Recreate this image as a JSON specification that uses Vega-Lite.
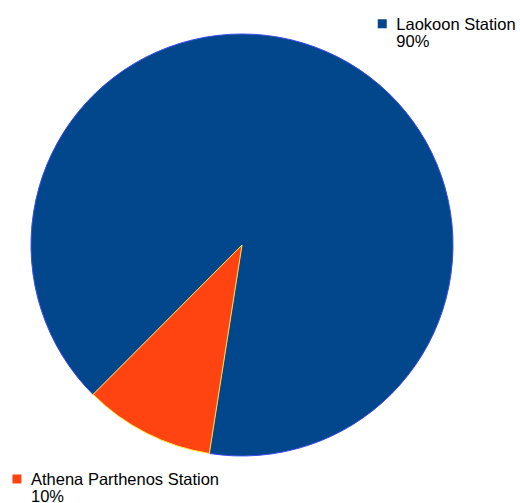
{
  "$schema": "https://vega.github.io/schema/vega-lite/v6.json",
  "width": 484,
  "height": 490,
  "autosize": {"type": "none"},
  "padding": {"left": 0, "top": 0, "right": 36, "bottom": 13},
  "background": "white",
  "config": {
    "view": {"stroke": null},
    "legend": {"labelFont": "Liberation Sans", "labelFontSize": 16.5, "labelColor": "#000000"},
    "style": {"guide-label": {"lineHeight": 17}}
  },
  "data": {
    "values": [
      {"station": "Laokoon Station", "value": 90},
      {"station": "Athena Parthenos Station", "value": 10}
    ]
  },
  "transform": [
    {"joinaggregate": [{"op": "sum", "field": "value", "as": "total"}]},
    {"calculate": "datum.station + '|' + format(datum.value / datum.total, '.0%')", "as": "legendLabel"}
  ],
  "layer": [
    {
      "mark": {"type": "arc", "outerRadius": 211, "strokeWidth": 1},
      "encoding": {
        "theta": {"field": "value", "type": "quantitative", "stack": true,
                  "scale": {"range": [3.297, 9.580]}},
        "color": {"field": "station", "type": "nominal",
                  "scale": {"domain": ["Athena Parthenos Station", "Laokoon Station"], "range": ["#ff4411", "#02468b"]},
                  "legend": null},
        "stroke": {"field": "station", "type": "nominal",
                   "scale": {"domain": ["Athena Parthenos Station", "Laokoon Station"], "range": ["#ffe640", "#3a4cf0"]},
                   "legend": null},
        "order": {"field": "station", "type": "nominal", "sort": "ascending"}
      }
    },
    {
      "transform": [{"filter": "datum.station == 'Laokoon Station'"}],
      "mark": {"type": "text", "text": ""},
      "encoding": {
        "color": {"field": "legendLabel", "type": "nominal",
                  "scale": {"range": ["#02468b"]},
                  "legend": {"orient": "none", "legendX": 374, "legendY": 8.5, "title": null,
                             "symbolType": "M-1,0.56L1,0.56L1,2.56L-1,2.56Z", "symbolSize": 81, "symbolStrokeWidth": 0,
                             "labelOffset": 5.8, "labelLimit": 300, "labelBaseline": "top", "padding": 0,
                             "labelExpr": "split(datum.label, '|')"}}
      }
    },
    {
      "transform": [{"filter": "datum.station == 'Athena Parthenos Station'"}],
      "mark": {"type": "text", "text": ""},
      "encoding": {
        "color": {"field": "legendLabel", "type": "nominal",
                  "scale": {"range": ["#ff4411"]},
                  "legend": {"orient": "none", "legendX": 8.7, "legendY": 463.7, "title": null,
                             "symbolType": "M-1,0.56L1,0.56L1,2.56L-1,2.56Z", "symbolSize": 81, "symbolStrokeWidth": 0,
                             "labelOffset": 5.8, "labelLimit": 300, "labelBaseline": "top", "padding": 0,
                             "labelExpr": "split(datum.label, '|')"}}
      }
    }
  ],
  "resolve": {"scale": {"color": "independent"}, "legend": {"color": "independent"}}
}
